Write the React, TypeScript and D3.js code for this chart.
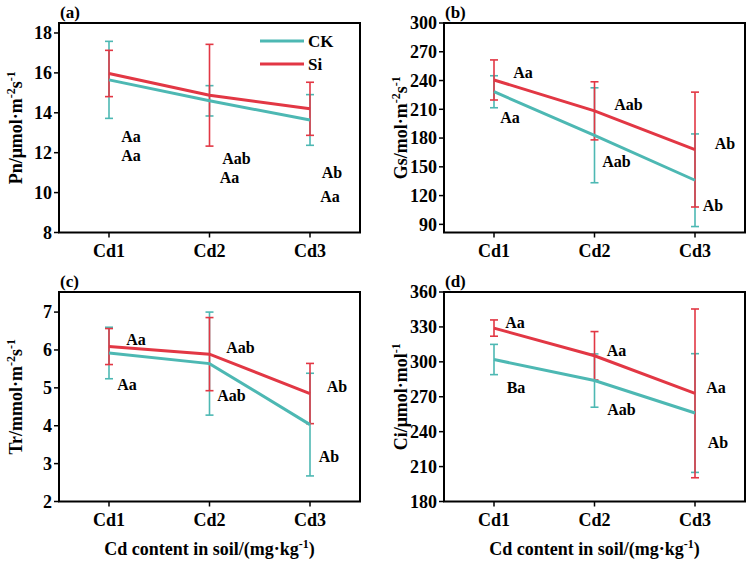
import * as d3 from "d3";

const width = 749;
const height = 562;

const categories = ["Cd1", "Cd2", "Cd3"];
const seriesNames = ["CK", "Si"];
const colors = ["#4DB8B3", "#E23744"];

// means and standard deviations
const pnCK = [15.65, 14.6, 13.64];
const pnCKSd = [1.93, 0.76, 1.27];
const pnSi = [15.97, 14.88, 14.2];
const pnSiSd = [1.16, 2.55, 1.33];

const gsCK = [228.3, 182.9, 136];
const gsCKSd = [16.7, 49.5, 48.3];
const gsSi = [240.6, 208.4, 168];
const gsSiSd = [20.9, 30.3, 59.9];

const trCK = [5.92, 5.64, 4.03];
const trCKSd = [0.68, 1.36, 1.355];
const trSi = [6.09, 5.89, 4.85];
const trSiSd = [0.475, 0.965, 0.795];

const ciCK = [302, 283.9, 256];
const ciCKSd = [13, 22.9, 51];
const ciSi = [329, 305.2, 272.9];
const ciSiSd = [7, 20.8, 72.5];

// significance letters (category index, value where the letter sits)
const pnLetters = [
  { text: "Aa", cat: 0, value: 12.82 },
  { text: "Aa", cat: 0, value: 11.87 },
  { text: "Aab", cat: 1, value: 11.72 },
  { text: "Aa", cat: 1, value: 10.76 },
  { text: "Ab", cat: 2, value: 11.01 },
  { text: "Aa", cat: 2, value: 9.81 },
];
const gsLetters = [
  { text: "Aa", cat: 0, value: 248.1 },
  { text: "Aa", cat: 0, value: 201.7 },
  { text: "Aab", cat: 1, value: 215.3 },
  { text: "Aab", cat: 1, value: 155.7 },
  { text: "Ab", cat: 2, value: 174.5 },
  { text: "Ab", cat: 2, value: 109.7 },
];
const trLetters = [
  { text: "Aa", cat: 0, value: 6.29 },
  { text: "Aa", cat: 0, value: 5.09 },
  { text: "Aab", cat: 1, value: 6.08 },
  { text: "Aab", cat: 1, value: 4.81 },
  { text: "Ab", cat: 2, value: 5.04 },
  { text: "Ab", cat: 2, value: 3.19 },
];
const ciLetters = [
  { text: "Aa", cat: 0, value: 333.9 },
  { text: "Ba", cat: 0, value: 278 },
  { text: "Aa", cat: 1, value: 309.8 },
  { text: "Aab", cat: 1, value: 258.8 },
  { text: "Aa", cat: 2, value: 277.7 },
  { text: "Ab", cat: 2, value: 230.7 },
];
// horizontal offsets of the letters from their category
const pnLetterDx = [22, 22, 27, 20, 22, 20];
const gsLetterDx = [29, 16, 34, 22, 30, 18];
const trLetterDx = [27, 18, 31, 22, 27, 19];
const ciLetterDx = [21, 22, 22, 27, 21, 23];

const pnTicks = [8, 10, 12, 14, 16, 18];
const gsTicks = [90, 120, 150, 180, 210, 240, 270, 300];
const trTicks = [2, 3, 4, 5, 6, 7];
const ciTicks = [180, 210, 240, 270, 300, 330, 360];

type Panel = {
  tag: string;
  left: number;
  top: number;
  domain: [number, number];
  ticks: number[];
  title: [string, string, string, string];
  means: number[][];
  sds: number[][];
  letters: { text: string; cat: number; value: number }[];
  letterDx: number[];
  legend?: boolean;
  xTitle?: boolean;
};

const panels: Panel[] = [
  { tag: "(a)", left: 59, top: 23, domain: [8, 18.5], ticks: pnTicks, title: ["Pn/μmol·m", "-2", "s", "-1"],
    means: [pnCK, pnSi], sds: [pnCKSd, pnSiSd], letters: pnLetters, letterDx: pnLetterDx, legend: true },
  { tag: "(b)", left: 444, top: 23, domain: [81.5, 300], ticks: gsTicks, title: ["Gs/mol·m", "-2", "s", "-1"],
    means: [gsCK, gsSi], sds: [gsCKSd, gsSiSd], letters: gsLetters, letterDx: gsLetterDx },
  { tag: "(c)", left: 59, top: 292, domain: [2, 7.53], ticks: trTicks, title: ["Tr/mmol·m", "-2", "s", "-1"],
    means: [trCK, trSi], sds: [trCKSd, trSiSd], letters: trLetters, letterDx: trLetterDx, xTitle: true },
  { tag: "(d)", left: 444, top: 292, domain: [180, 360], ticks: ciTicks, title: ["Ci/μmol·mol", "-1", "", ""],
    means: [ciCK, ciSi], sds: [ciCKSd, ciSiSd], letters: ciLetters, letterDx: ciLetterDx, xTitle: true },
];

const pw = 301;
const ph = 209.5;
const serif = { fontFamily: "'Liberation Serif', serif", fontWeight: "bold" as const };

const PanelView = ({ p }: { p: Panel }) => {
  const x = d3.scalePoint().domain(categories).range([50, pw - 50]);
  const y = d3.scaleLinear().domain(p.domain).range([ph, 0]);
  const line = d3.line<number>().x((_, i) => x(categories[i])!).y(d => y(d));

  return (
    <g transform={`translate(${p.left},${p.top})`}>
      <text x={1} y={-5} style={{ ...serif, fontSize: 17 }}>{p.tag}</text>
      {/* y axis ticks */}
      {p.ticks.map(t => (
        <g key={t} transform={`translate(0,${y(t)})`}>
          <line x1={-5} x2={0} stroke="#000" strokeWidth={1.5} />
          <text x={-7} dy="0.35em" textAnchor="end" style={{ ...serif, fontSize: 18 }}>{t}</text>
        </g>
      ))}
      {/* x axis ticks */}
      {categories.map(c => (
        <g key={c} transform={`translate(${x(c)},${ph})`}>
          <line y1={0} y2={5} stroke="#000" strokeWidth={1.5} />
          <text y={24} textAnchor="middle" style={{ ...serif, fontSize: 18 }}>{c}</text>
        </g>
      ))}
      {/* y title */}
      <text transform={`translate(${-37},${ph / 2}) rotate(-90)`} textAnchor="middle" style={{ ...serif, fontSize: 18 }}>
        {p.title[0]}
        <tspan dy={-7} fontSize={12}>{p.title[1]}</tspan>
        {p.title[2] && <tspan dy={7} fontSize={18}>{p.title[2]}</tspan>}
        {p.title[3] && <tspan dy={-7} fontSize={12}>{p.title[3]}</tspan>}
      </text>
      {p.xTitle && (
        <text x={pw / 2} y={ph + 53} textAnchor="middle" style={{ ...serif, fontSize: 18 }}>
          Cd content in soil/(mg·kg<tspan dy={-7} fontSize={12}>-1</tspan><tspan dy={7} fontSize={18}>)</tspan>
        </text>
      )}
      {/* error bars */}
      {p.means.map((m, s) => (
        <g key={"e" + s} stroke={colors[s]} strokeWidth={1.6}>
          {m.map((v, i) => {
            const cx = x(categories[i])!;
            const hi = y(v + p.sds[s][i]);
            const lo = y(v - p.sds[s][i]);
            return (
              <g key={i}>
                <line x1={cx} x2={cx} y1={hi} y2={lo} />
                <line x1={cx - 4} x2={cx + 4} y1={hi} y2={hi} />
                <line x1={cx - 4} x2={cx + 4} y1={lo} y2={lo} />
              </g>
            );
          })}
        </g>
      ))}
      {p.means.map((m, s) => (
        <path key={"l" + s} d={line(m)!} fill="none" stroke={colors[s]} strokeWidth={3} />
      ))}
      {p.letters.map((l, i) => (
        <text key={"t" + i} x={x(categories[l.cat])! + p.letterDx[i]} y={y(l.value)} dy="0.35em"
          textAnchor="middle" style={{ ...serif, fontSize: 16 }}>{l.text}</text>
      ))}
      {p.legend && seriesNames.map((n, s) => (
        <g key={n} transform={`translate(201,${18 + s * 23})`}>
          <line x1={0} x2={44} stroke={colors[s]} strokeWidth={3} />
          <text x={48} dy="0.35em" style={{ ...serif, fontSize: 17 }}>{n}</text>
        </g>
      ))}
      <rect width={pw} height={ph} fill="none" stroke="#000" strokeWidth={2} />
    </g>
  );
};

export default function App() {
  return (
    <svg width={width} height={height} style={{ position: "absolute", left: 0, top: 0, background: "#fff" }}>
      {panels.map(p => <PanelView key={p.tag} p={p} />)}
    </svg>
  );
}
